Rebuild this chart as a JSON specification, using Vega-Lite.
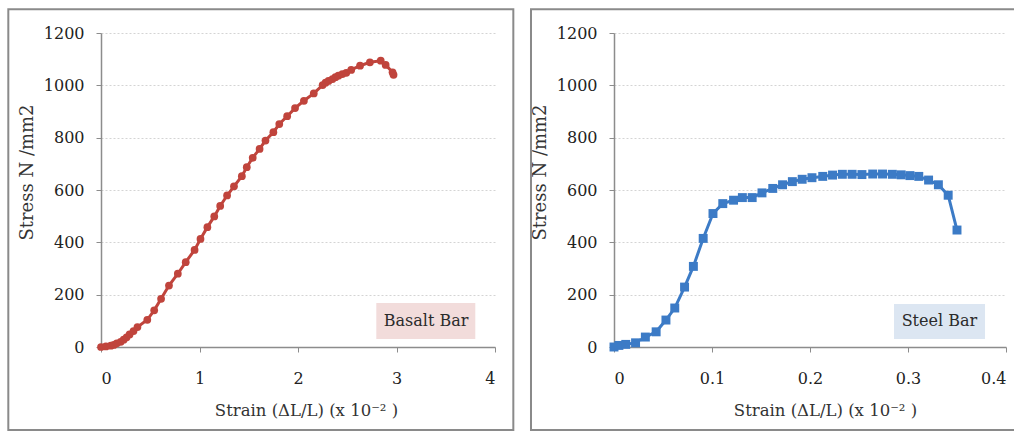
{
  "$schema": "https://vega.github.io/schema/vega-lite/v6.json",
  "padding": {"left": 7, "top": 8, "right": 0, "bottom": 0},
  "background": "white",
  "spacing": 14,
  "config": {
    "view": {"stroke": null},
    "font": "DejaVu Serif",
    "axis": {
      "labelFont": "DejaVu Serif",
      "labelFontSize": 16,
      "labelColor": "#222222",
      "titleFont": "DejaVu Serif",
      "titleFontSize": 16.5,
      "titleFontWeight": "normal",
      "titleColor": "#333333",
      "domainColor": "#8c8c8c",
      "domainWidth": 1.5,
      "tickColor": "#8c8c8c",
      "tickSize": 5,
      "gridColor": "#d4d4d4",
      "gridDash": [2, 2],
      "gridWidth": 1
    }
  },
  "datasets": {
    "basalt": [
      {"x": 0, "y": 0}, {"x": 0.05, "y": 2}, {"x": 0.1, "y": 5}, {"x": 0.13, "y": 8}, {"x": 0.16, "y": 14},
      {"x": 0.2, "y": 20}, {"x": 0.23, "y": 28}, {"x": 0.26, "y": 37}, {"x": 0.29, "y": 48}, {"x": 0.33, "y": 61},
      {"x": 0.37, "y": 76}, {"x": 0.47, "y": 104}, {"x": 0.54, "y": 140}, {"x": 0.61, "y": 184}, {"x": 0.69, "y": 235},
      {"x": 0.78, "y": 280}, {"x": 0.86, "y": 324}, {"x": 0.95, "y": 371}, {"x": 1.01, "y": 413}, {"x": 1.08, "y": 458},
      {"x": 1.15, "y": 499}, {"x": 1.21, "y": 539}, {"x": 1.28, "y": 579}, {"x": 1.35, "y": 614}, {"x": 1.43, "y": 653},
      {"x": 1.48, "y": 687}, {"x": 1.54, "y": 723}, {"x": 1.61, "y": 757}, {"x": 1.67, "y": 789}, {"x": 1.75, "y": 821},
      {"x": 1.81, "y": 852}, {"x": 1.89, "y": 882}, {"x": 1.97, "y": 913}, {"x": 2.06, "y": 941}, {"x": 2.16, "y": 969},
      {"x": 2.25, "y": 1001}, {"x": 2.28, "y": 1010}, {"x": 2.31, "y": 1017}, {"x": 2.35, "y": 1024}, {"x": 2.38, "y": 1031},
      {"x": 2.41, "y": 1037}, {"x": 2.45, "y": 1043}, {"x": 2.49, "y": 1048}, {"x": 2.54, "y": 1059}, {"x": 2.63, "y": 1075},
      {"x": 2.73, "y": 1088}, {"x": 2.84, "y": 1094}, {"x": 2.89, "y": 1078}, {"x": 2.96, "y": 1050}, {"x": 2.97, "y": 1040}
    ],
    "steel": [
      {"x": 0, "y": 0}, {"x": 0.005, "y": 6}, {"x": 0.012, "y": 10}, {"x": 0.022, "y": 16}, {"x": 0.032, "y": 38},
      {"x": 0.043, "y": 58}, {"x": 0.053, "y": 103}, {"x": 0.062, "y": 149}, {"x": 0.072, "y": 229}, {"x": 0.081, "y": 308},
      {"x": 0.091, "y": 415}, {"x": 0.101, "y": 510}, {"x": 0.111, "y": 548}, {"x": 0.122, "y": 561}, {"x": 0.131, "y": 571},
      {"x": 0.141, "y": 571}, {"x": 0.151, "y": 589}, {"x": 0.162, "y": 606}, {"x": 0.172, "y": 620}, {"x": 0.182, "y": 632},
      {"x": 0.192, "y": 641}, {"x": 0.202, "y": 647}, {"x": 0.213, "y": 652}, {"x": 0.223, "y": 657}, {"x": 0.233, "y": 660},
      {"x": 0.243, "y": 660}, {"x": 0.253, "y": 659}, {"x": 0.264, "y": 661}, {"x": 0.274, "y": 661}, {"x": 0.284, "y": 660},
      {"x": 0.293, "y": 658}, {"x": 0.302, "y": 655}, {"x": 0.311, "y": 652}, {"x": 0.321, "y": 638}, {"x": 0.331, "y": 620},
      {"x": 0.341, "y": 580}, {"x": 0.35, "y": 447}
    ]
  },
  "hconcat": [
    {
      "width": 394,
      "height": 314,
      "encoding": {
        "x": {"field": "x", "type": "quantitative",
          "scale": {"domain": [0, 4], "nice": false, "zero": false},
          "axis": {"values": [0, 1, 2, 3, 4], "grid": false, "labelPadding": 18, "titlePadding": 16, "titleX": 205, "titleAlign": "center", "title": "Strain (ΔL/L)  (x 10⁻² )"}},
        "y": {"field": "y", "type": "quantitative",
          "scale": {"domain": [0, 1200], "nice": false, "zero": false},
          "axis": {"values": [0, 200, 400, 600, 800, 1000, 1200], "format": "d", "grid": true, "labelPadding": 12, "titlePadding": 7, "titleY": 139, "titleFontSize": 18, "title": "Stress N /mm2"}}
      },
      "layer": [
        {
          "data": {"values": [{"x": -0.941, "x2": 4.186, "y": -317, "y2": 1291}]},
          "mark": {"type": "rect", "filled": false, "stroke": "#8a8a8a", "strokeWidth": 2, "clip": false},
          "encoding": {"x2": {"field": "x2"}, "y2": {"field": "y2"}}
        },
        {
          "data": {"values": [{"x": 2.795, "x2": 3.8, "y": 31, "y2": 168}]},
          "mark": {"type": "rect", "fill": "#F2DCDB", "stroke": null},
          "encoding": {"x2": {"field": "x2"}, "y2": {"field": "y2"}}
        },
        {
          "data": {"values": [{"x": 3.3, "y": 99, "label": "Basalt Bar"}]},
          "mark": {"type": "text", "font": "DejaVu Serif", "fontSize": 16, "color": "#2b2b2b", "align": "center", "baseline": "middle"},
          "encoding": {"text": {"field": "label"}}
        },
        {
          "data": {"name": "basalt"},
          "mark": {"type": "line", "color": "#C0443C", "strokeWidth": 3,
            "point": {"shape": "circle", "size": 60, "filled": true, "color": "#C0443C"}}
        }
      ]
    },
    {
      "width": 392,
      "height": 314,
      "encoding": {
        "x": {"field": "x", "type": "quantitative",
          "scale": {"domain": [0, 0.4], "nice": false, "zero": false},
          "axis": {"values": [0, 0.1, 0.2, 0.3, 0.4], "format": ".1~f", "grid": false, "labelPadding": 18, "titlePadding": 16, "titleX": 211, "titleAlign": "center", "title": "Strain (ΔL/L)  (x 10⁻² )"}},
        "y": {"field": "y", "type": "quantitative",
          "scale": {"domain": [0, 1200], "nice": false, "zero": false},
          "axis": {"values": [0, 200, 400, 600, 800, 1000, 1200], "format": "d", "grid": true, "labelPadding": 12, "titlePadding": 7, "titleY": 139, "titleFontSize": 18, "title": "Stress N /mm2"}}
      },
      "layer": [
        {
          "data": {"values": [{"x": -0.0847, "x2": 0.4102, "y": -317, "y2": 1291}]},
          "mark": {"type": "rect", "filled": false, "stroke": "#8a8a8a", "strokeWidth": 2, "clip": false},
          "encoding": {"x2": {"field": "x2"}, "y2": {"field": "y2"}}
        },
        {
          "data": {"values": [{"x": 0.2857, "x2": 0.3786, "y": 31, "y2": 164}]},
          "mark": {"type": "rect", "fill": "#DCE6F2", "stroke": null},
          "encoding": {"x2": {"field": "x2"}, "y2": {"field": "y2"}}
        },
        {
          "data": {"values": [{"x": 0.332, "y": 98, "label": "Steel Bar"}]},
          "mark": {"type": "text", "font": "DejaVu Serif", "fontSize": 16, "color": "#2b2b2b", "align": "center", "baseline": "middle"},
          "encoding": {"text": {"field": "label"}}
        },
        {
          "data": {"name": "steel"},
          "mark": {"type": "line", "color": "#3C7BC6", "strokeWidth": 3,
            "point": {"shape": "square", "size": 80, "filled": true, "color": "#3C7BC6"}}
        }
      ]
    }
  ]
}
